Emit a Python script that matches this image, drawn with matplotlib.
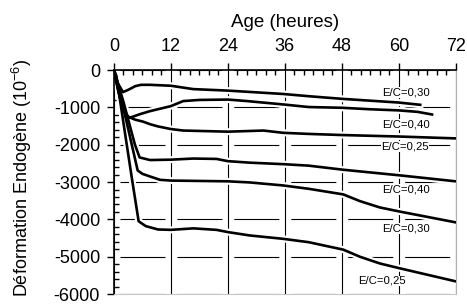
import matplotlib
matplotlib.use("Agg")
from matplotlib import pyplot as plt
from matplotlib.ticker import MultipleLocator

plt.rcParams["font.family"] = ["Liberation Sans", "DejaVu Sans"]
plt.rcParams["lines.scale_dashes"] = False

# heures / 10^-6
x_a = [0, 0.8, 1.9, 3, 4.5, 5.7, 7.6, 12, 16.7, 24, 35.6, 41, 48, 60, 64.5]
y_a = [0, -350, -590, -530, -430, -395, -395, -420, -510, -550, -640, -700, -770, -870, -930]

x_b = [0, 0.8, 1.8, 2.8, 3.5, 5.5, 7.6, 12, 14.6, 18, 24, 28, 35.6, 41, 48, 54, 60, 64, 67]
y_b = [0, -500, -1000, -1250, -1270, -1180, -1100, -965, -830, -800, -790, -830, -920, -990,
       -1010, -1050, -1080, -1120, -1190]

x_c = [0, 1, 2, 3, 4.5, 6.1, 7.6, 9.3, 12, 14.6, 24, 31.5, 35.6, 41, 48, 60, 72]
y_c = [0, -600, -1050, -1250, -1330, -1380, -1450, -1510, -1580, -1620, -1650, -1620, -1680,
       -1710, -1740, -1780, -1830]

x_d = [0, 2, 4.4, 5.4, 7.6, 12, 16.7, 21.6, 24, 28.6, 35.6, 41, 48.3, 60.2, 72]
y_d = [0, -850, -1990, -2340, -2410, -2400, -2370, -2380, -2440, -2480, -2520, -2560, -2670,
       -2820, -2980]

x_e = [0, 2.5, 5, 6, 7.6, 9.7, 12, 24, 28.6, 35.6, 41, 48.3, 51.8, 56, 60.2, 72]
y_e = [0, -1300, -2690, -2780, -2850, -2940, -2960, -2980, -3010, -3090, -3180, -3330, -3510,
       -3680, -3790, -4080]

x_f = [0, 0.5, 2.7, 3.9, 5.2, 6.7, 9.3, 12, 16.7, 21.6, 24, 28.6, 35.6, 41, 48.3, 51.8, 56,
       60.2, 72]
y_f = [0, -150, -2000, -3000, -4050, -4180, -4270, -4280, -4240, -4280, -4340, -4430, -4520,
       -4610, -4810, -5000, -5180, -5310, -5660]

labels = ["E/C=0,30", "E/C=0,40", "E/C=0,25", "E/C=0,40", "E/C=0,30", "E/C=0,25"]
label_x = [61.5, 61.5, 61.3, 61.5, 61.5, 56.5]
label_y = [-600, -1450, -2050, -3200, -4240, -5650]

curves = [(x_a, y_a), (x_b, y_b), (x_c, y_c), (x_d, y_d), (x_e, y_e), (x_f, y_f)]

fig = plt.figure(figsize=(4.67, 3.06), dpi=100)
ax = fig.add_axes([0.244, 0.039, 0.732, 0.732])

# halo blanc sous les courbes (coupe la grille)
for xs, ys in curves:
    ax.plot(xs, ys, color="white", lw=5, solid_joinstyle="round", zorder=2.5)
for xs, ys in curves:
    ax.plot(xs, ys, color="black", lw=1.9, solid_joinstyle="round", zorder=3)

for t, lx, ly in zip(labels, label_x, label_y):
    ax.text(lx, ly, t, fontsize=8.2, ha="center", va="center", zorder=4,
            bbox=dict(facecolor="white", edgecolor="none", pad=0.3))

ax.set_xlim(0, 72)
ax.set_ylim(-6000, 0)
ax.xaxis.set_major_locator(MultipleLocator(12))
ax.xaxis.set_minor_locator(MultipleLocator(2))
ax.yaxis.set_major_locator(MultipleLocator(1000))
ax.yaxis.set_minor_locator(MultipleLocator(200))
ax.xaxis.tick_top()
ax.xaxis.set_label_position("top")
ax.tick_params(axis="both", which="major", direction="out", length=5, width=1,
               labelsize=13)
ax.tick_params(axis="x", which="major", pad=6)
ax.tick_params(axis="y", which="major", pad=5)
ax.tick_params(axis="both", which="minor", direction="in", length=3.5, width=1)
ax.tick_params(axis="x", which="both", bottom=False)
ax.tick_params(axis="y", which="both", right=False)
ax.set_yticks(range(-6000, 1, 1000))
ax.set_yticklabels([str(v) for v in range(-6000, 1, 1000)])

# grille : verticales pleines, horizontales en tirets coupes aux verticales
ax.grid(True, axis="x", which="major", color="black", lw=0.8, zorder=1)
ax.grid(True, axis="y", which="major", color="black", lw=0.8, zorder=1,
        linestyle=(36.7, (32.4, 8.6)))
ax.set_axisbelow(True)

ax.set_xlabel("Age (heures)", fontsize=13.5, labelpad=8)
ax.set_ylabel("Déformation Endogène (10$^{\\mathregular{-6}}$)", fontsize=13)
ax.yaxis.set_label_coords(-0.235, 0.52)

ax.spines["left"].set_linewidth(1.2)
ax.spines["top"].set_linewidth(1.2)
ax.spines["right"].set_color("#b0b0b0")
ax.spines["bottom"].set_color("#c8c8c8")

fig.savefig("out.png", dpi=100)
